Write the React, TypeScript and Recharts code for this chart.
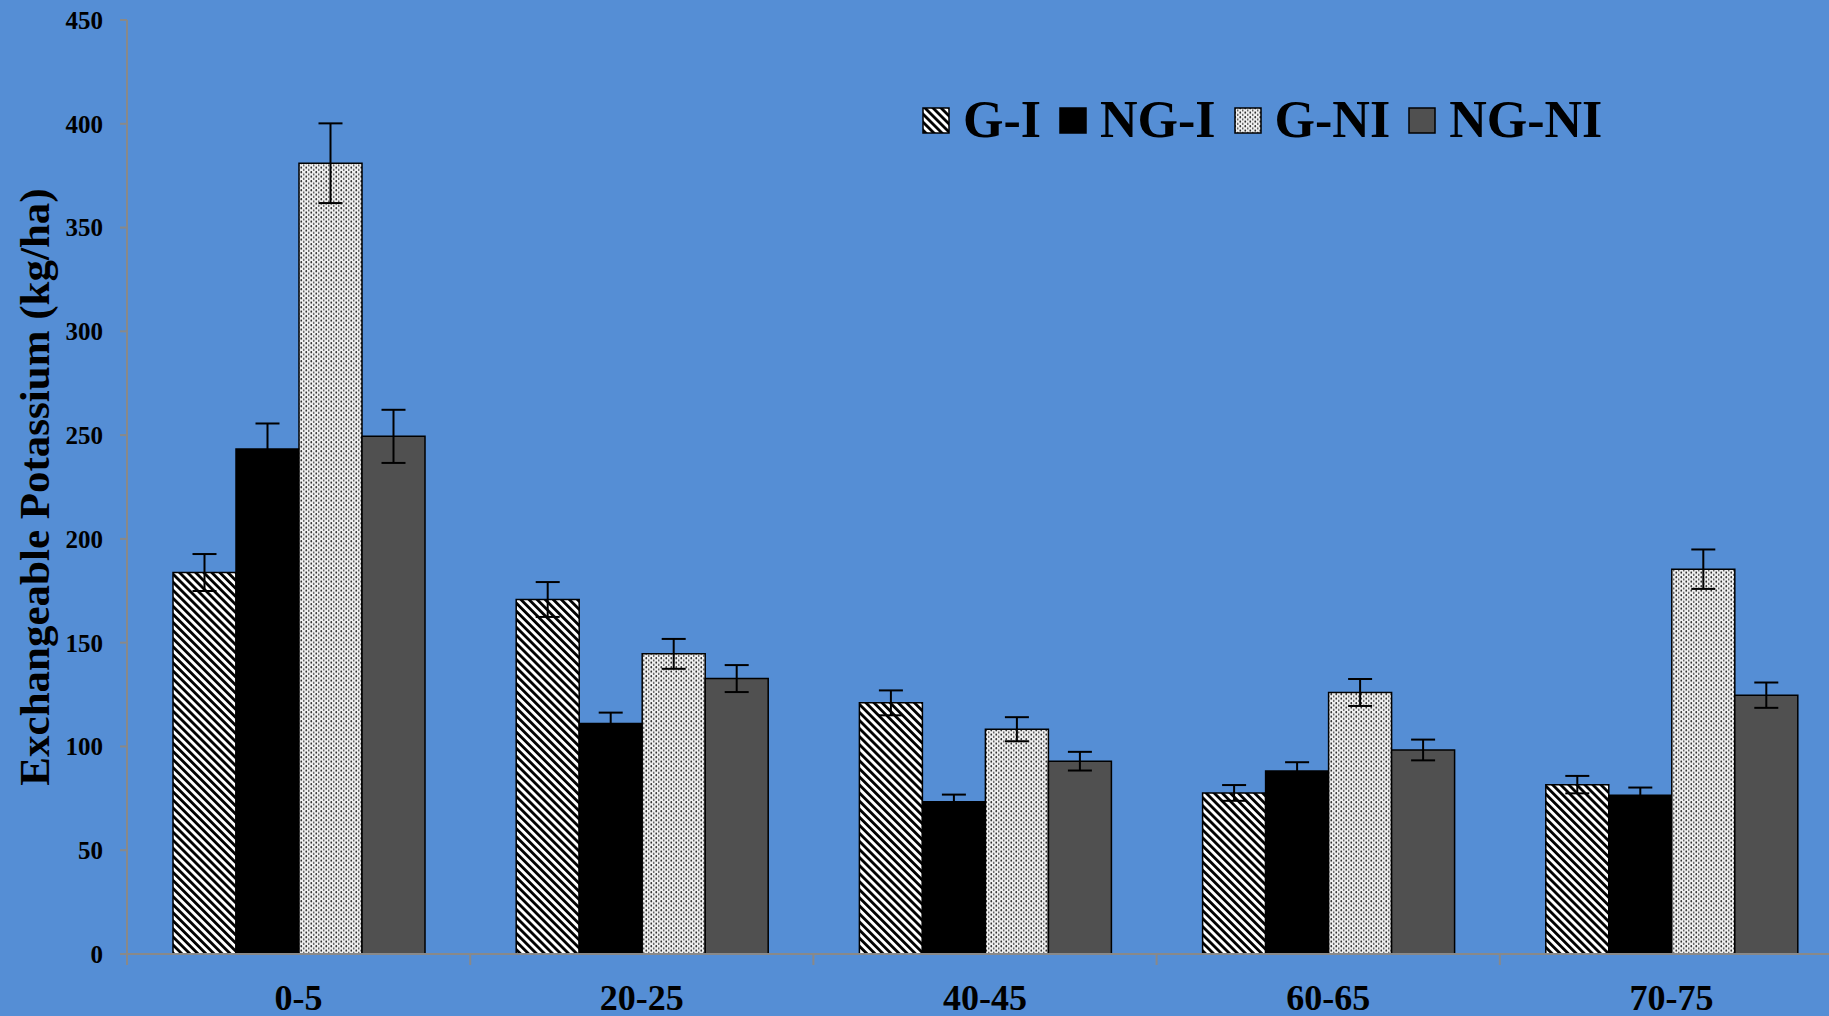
import React from 'react';
import { BarChart, Bar, XAxis, YAxis, ErrorBar, Legend } from 'recharts';

// Soil depth classes (cm)
const categories = ['0-5', '20-25', '40-45', '60-65', '70-75'];

// Exchangeable potassium (kg/ha) per treatment, with standard errors
const giValues = [183.8, 170.8, 121.0, 77.6, 81.6];
const giErrors = [8.9, 8.4, 6.0, 3.8, 4.2];
const ngiValues = [243.3, 111.0, 73.4, 88.2, 76.5];
const ngiErrors = [12.3, 5.3, 3.4, 4.2, 3.7];
const gniValues = [381.0, 144.6, 108.3, 126.0, 185.4];
const gniErrors = [19.2, 7.2, 5.8, 6.5, 9.5];
const ngniValues = [249.4, 132.7, 92.9, 98.3, 124.7];
const ngniErrors = [12.8, 6.5, 4.5, 5.0, 6.1];

const yTicks = [0, 50, 100, 150, 200, 250, 300, 350, 400, 450];

const series = [
  { key: 'gi', name: 'G-I', fill: 'url(#patGI)' },
  { key: 'ngi', name: 'NG-I', fill: '#000000' },
  { key: 'gni', name: 'G-NI', fill: 'url(#patGNI)' },
  { key: 'ngni', name: 'NG-NI', fill: '#505050' },
];

const data = categories.map((depth, i) => ({
  depth,
  gi: giValues[i],
  giErr: giErrors[i],
  ngi: ngiValues[i],
  ngiErr: ngiErrors[i],
  gni: gniValues[i],
  gniErr: gniErrors[i],
  ngni: ngniValues[i],
  ngniErr: ngniErrors[i],
}));

const FONT = "'Liberation Serif', 'Times New Roman', serif";
const AXIS_GREY = '#898989';
const BG = '#558ED5';

const CategoryTick = (props: any) => {
  const { x, y, payload, index, visibleTicksCount, width } = props;
  const half =
    payload && typeof payload.offset === 'number' && payload.offset > 0
      ? payload.offset
      : width / visibleTicksCount / 2;
  return (
    <g>
      <line x1={x - half} x2={x - half} y1={y} y2={y + 11} stroke={AXIS_GREY} strokeWidth={2} />
      {index === visibleTicksCount - 1 && (
        <line x1={x + half} x2={x + half} y1={y} y2={y + 11} stroke={AXIS_GREY} strokeWidth={2} />
      )}
      <text
        x={x}
        y={y + 56}
        textAnchor="middle"
        fontFamily={FONT}
        fontWeight="bold"
        fontSize={36}
        fill="#000"
      >
        {payload.value}
      </text>
    </g>
  );
};

const YLabel = (props: any) => {
  const vb = props.viewBox || { x: 0, y: 20, width: 127, height: 934 };
  const x = vb.x + 49;
  const y = vb.y + vb.height / 2;
  return (
    <text
      x={x}
      y={y}
      transform={`rotate(-90, ${x}, ${y})`}
      textAnchor="middle"
      fontFamily={FONT}
      fontWeight="bold"
      fontSize={43}
      fill="#000"
    >
      Exchangeable Potassium (kg/ha)
    </text>
  );
};

const renderLegend = () => (
  <div style={{ display: 'flex', alignItems: 'center', whiteSpace: 'nowrap' }}>
    {series.map((s, i) => (
      <div
        key={s.key}
        style={{ display: 'flex', alignItems: 'center', marginLeft: i === 0 ? 0 : 18 }}
      >
        <svg width={28} height={27} style={{ display: 'block', marginRight: 13 }}>
          <rect x={1} y={1} width={26} height={25} fill={s.fill} stroke="#000" strokeWidth={1.5} />
        </svg>
        <span
          style={{
            fontFamily: FONT,
            fontWeight: 'bold',
            fontSize: 52,
            lineHeight: 1,
            color: '#000',
          }}
        >
          {s.name}
        </span>
      </div>
    ))}
  </div>
);

export default function App() {
  return (
    <div
      style={{
        position: 'absolute',
        left: 0,
        top: 0,
        width: 1829,
        height: 1016,
        overflow: 'hidden',
        background: BG,
      }}
    >
      <BarChart
        width={1870}
        height={1016}
        data={data}
        margin={{ top: 20, right: 27, bottom: 0, left: 0 }}
        barSize={63}
        barGap={0}
      >
        <defs>
          <pattern
            id="patGI"
            patternUnits="userSpaceOnUse"
            width={5.7}
            height={5.7}
            patternTransform="rotate(-45)"
          >
            <rect x={0} y={0} width={5.7} height={5.7} fill="#ffffff" />
            <rect x={0} y={0} width={2.8} height={5.7} fill="#000000" />
          </pattern>
          <pattern id="patGNI" patternUnits="userSpaceOnUse" width={5} height={4.5}>
            <rect x={0} y={0} width={5} height={4.5} fill="#f2f2f2" />
            <ellipse cx={1.25} cy={1.1} rx={0.8} ry={1.1} fill="#222" />
            <ellipse cx={3.75} cy={3.35} rx={0.8} ry={1.1} fill="#555" />
          </pattern>
        </defs>
        <XAxis
          dataKey="depth"
          type="category"
          height={62}
          axisLine={{ stroke: AXIS_GREY, strokeWidth: 2 }}
          tickLine={false}
          tickSize={0}
          tickMargin={0}
          interval={0}
          tick={<CategoryTick />}
        />
        <YAxis
          type="number"
          domain={[0, 450]}
          ticks={yTicks}
          interval={0}
          width={127}
          axisLine={{ stroke: AXIS_GREY, strokeWidth: 2 }}
          tickLine={{ stroke: AXIS_GREY, strokeWidth: 2 }}
          tickSize={7}
          tickMargin={17}
          tick={{ fill: '#000', fontFamily: FONT, fontWeight: 'bold', fontSize: 25 }}
          label={<YLabel />}
        />
        <Legend
          layout="vertical"
          align="center"
          verticalAlign="middle"
          content={renderLegend}
          wrapperStyle={{ top: 94, left: 922, width: 'auto', lineHeight: 1 }}
        />
        {series.map((s) => (
          <Bar
            key={s.key}
            dataKey={s.key}
            name={s.name}
            fill={s.fill}
            stroke="#000"
            strokeWidth={1.5}
            isAnimationActive={false}
          >
            <ErrorBar
              dataKey={`${s.key}Err`}
              width={12}
              strokeWidth={2}
              stroke="#000"
              isAnimationActive={false}
            />
          </Bar>
        ))}
      </BarChart>
    </div>
  );
}
